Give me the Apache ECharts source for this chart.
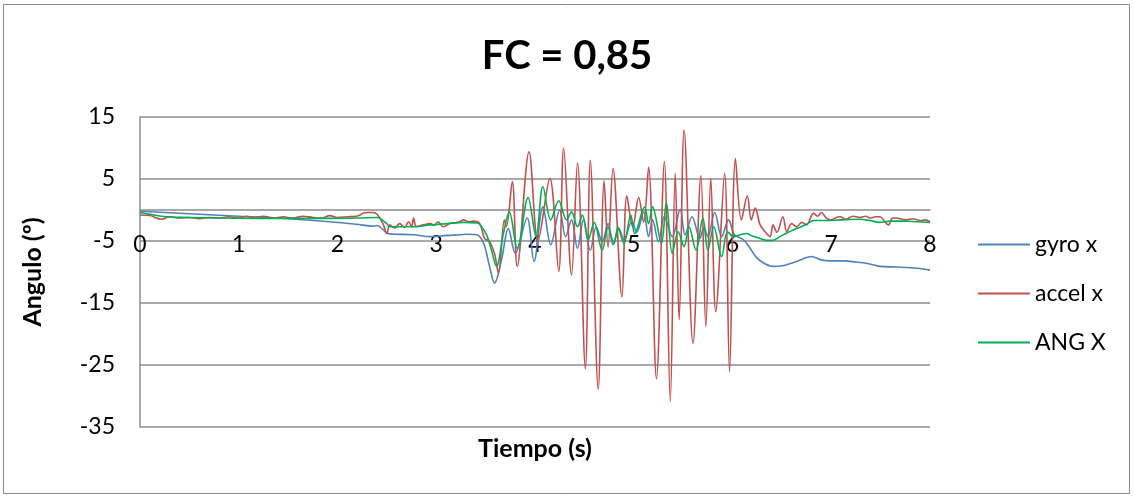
<!DOCTYPE html>
<html>
<head>
<meta charset="utf-8">
<script src="https://cdn.jsdelivr.net/npm/echarts@6/dist/echarts.min.js"></script>
<style>
  html, body { margin: 0; padding: 0; background: #fff; }
  #chart { width: 1134px; height: 497px; }
</style>
</head>
<body>
<div id="chart"></div>
<script>
// Time ticks (s) and angle ticks (deg)
const timeTicks = [0, 1, 2, 3, 4, 5, 6, 7, 8];
const angleTicks = [-35, -25, -15, -5, 5, 15];
const seriesNames = ['gyro x', 'accel x', 'ANG X'];

// [time s, angle deg]
const gyroX = [
  [0,-0.2],[0.5,-0.6],[1.0,-1.0],[1.5,-1.4],[1.92,-1.9],[2.19,-2.3],[2.36,-2.6],[2.40,-2.5],
  [2.45,-3.0],[2.51,-3.8],[2.58,-3.9],[2.77,-4.0],[2.94,-4.3],[3.11,-4.1],[3.24,-4.0],[3.31,-3.9],
  [3.41,-4.0],[3.48,-5.4],[3.54,-9.1],[3.59,-11.8],[3.66,-8.1],[3.73,-3.0],[3.80,-7.0],[3.92,-1.3],
  [3.99,-8.3],[4.08,0.5],[4.16,-5.6],[4.25,0.0],[4.31,-4.3],[4.37,-1.6],[4.43,-6.2],[4.49,-1.6],
  [4.56,-6.5],[4.62,-2.7],[4.68,-5.1],[4.74,-2.2],[4.79,-5.6],[4.85,-3.0],[4.90,-4.8],[4.98,-1.9],
  [5.03,-3.6],[5.10,-0.3],[5.15,-4.3],[5.19,-1.6],[5.25,-5.1],[5.31,-1.0],[5.39,-4.3],[5.47,0.1],
  [5.52,-4.0],[5.59,-1.1],[5.67,-4.6],[5.71,-2.8],[5.75,-4.3],[5.82,-0.4],[5.89,-4.3],[5.96,-1.6],
  [6.02,-4.0],[6.11,-4.8],[6.18,-6.2],[6.24,-7.6],[6.31,-8.5],[6.41,-9.1],[6.50,-9.0],[6.65,-8.3],
  [6.80,-7.5],[6.89,-8.0],[6.99,-8.2],[7.12,-8.2],[7.25,-8.4],[7.39,-8.7],[7.49,-9.1],[7.66,-9.2],
  [7.87,-9.4],[8.0,-9.7]
];

const accelX = [
  [0,-0.8],[0.1,-0.9],[0.22,-1.5],[0.3,-1.1],[0.4,-1.3],[0.5,-1.2],[0.6,-1.4],[0.7,-1.2],[0.8,-1.3],
  [0.9,-1.1],[1.0,-1.3],[1.08,-1.0],[1.15,-1.2],[1.25,-1.0],[1.35,-1.3],[1.45,-1.1],[1.55,-1.3],
  [1.65,-1.0],[1.75,-1.2],[1.85,-1.3],[1.92,-0.9],[2.0,-1.2],[2.1,-1.1],[2.19,-1.0],[2.23,-0.8],
  [2.26,-0.5],[2.31,-0.4],[2.36,-0.4],[2.40,-0.7],[2.46,-2.2],[2.50,-3.8],[2.53,-2.4],[2.58,-2.9],
  [2.63,-2.2],[2.68,-2.8],[2.72,-1.9],[2.75,-2.7],[2.77,-1.3],[2.80,-2.7],[2.87,-2.4],[2.94,-2.2],
  [2.98,-2.5],[3.02,-1.9],[3.07,-2.7],[3.15,-2.1],[3.22,-2.0],[3.28,-1.6],[3.33,-1.9],[3.38,-1.8],
  [3.44,-2.2],[3.49,-4.6],[3.54,-5.1],[3.59,-7.0],[3.63,-10.2],[3.69,-1.6],[3.71,-2.7],[3.77,4.6],
  [3.82,-9.1],[3.94,9.4],[4.03,-5.0],[4.15,5.1],[4.24,-9.9],[4.29,10.0],[4.37,-10.5],[4.43,7.6],
  [4.51,-25.6],[4.56,8.0],[4.64,-28.9],[4.70,4.7],[4.74,-6.0],[4.79,6.7],[4.88,-14.0],[4.93,2.3],
  [4.99,-2.7],[5.05,2.0],[5.10,-2.0],[5.15,6.9],[5.23,-27.2],[5.31,7.8],[5.37,-30.9],[5.42,5.9],
  [5.46,-17.7],[5.51,12.9],[5.60,-21.5],[5.68,5.5],[5.73,-18.8],[5.78,5.1],[5.83,-16.4],[5.92,5.9],
  [5.97,-26.1],[6.03,8.3],[6.09,-1.6],[6.15,2.3],[6.19,-1.6],[6.23,0.3],[6.28,-2.4],[6.33,-3.5],
  [6.38,-4.3],[6.41,-2.4],[6.45,-3.6],[6.51,-1.1],[6.55,-3.5],[6.60,-2.2],[6.65,-2.7],[6.70,-2.0],
  [6.75,-2.4],[6.82,-0.5],[6.86,-1.0],[6.90,-0.4],[6.95,-1.3],[7.0,-1.6],[7.05,-1.2],[7.09,-1.1],
  [7.15,-1.5],[7.22,-1.0],[7.29,-1.2],[7.35,-1.0],[7.39,-1.3],[7.45,-1.1],[7.49,-1.1],[7.58,-2.4],
  [7.62,-1.3],[7.66,-1.3],[7.72,-1.5],[7.76,-1.6],[7.82,-1.4],[7.90,-1.7],[7.95,-1.6],[8.0,-1.9]
];

const angX = [
  [0,-0.4],[0.1,-0.7],[0.27,-1.1],[0.5,-1.2],[0.8,-1.3],[1.18,-1.35],[1.6,-1.35],[1.92,-1.35],
  [2.2,-1.3],[2.40,-1.2],[2.43,-1.35],[2.50,-2.2],[2.53,-2.7],[2.77,-2.7],[2.94,-2.4],[3.11,-2.2],
  [3.27,-2.0],[3.41,-2.1],[3.44,-2.3],[3.51,-4.0],[3.56,-6.5],[3.61,-9.1],[3.68,-3.8],[3.74,-0.3],
  [3.82,-6.2],[3.93,2.0],[4.01,-4.3],[4.08,3.8],[4.16,-1.6],[4.24,1.5],[4.32,-1.6],[4.37,-0.3],
  [4.43,-2.7],[4.48,-0.8],[4.54,-4.8],[4.60,-2.0],[4.68,-6.5],[4.74,-2.8],[4.80,-5.4],[4.84,-2.8],
  [4.90,-5.4],[4.97,-0.8],[5.01,-3.8],[5.11,0.5],[5.15,-2.2],[5.19,0.5],[5.28,-5.4],[5.33,1.2],
  [5.39,-7.0],[5.45,-3.5],[5.51,-5.9],[5.56,-2.7],[5.63,-6.5],[5.70,-1.3],[5.75,-6.5],[5.81,-2.7],
  [5.89,-7.5],[5.95,-3.5],[6.01,-4.3],[6.08,-4.0],[6.14,-3.8],[6.20,-4.2],[6.28,-4.6],[6.35,-4.9],
  [6.41,-4.9],[6.48,-4.3],[6.55,-3.7],[6.65,-3.0],[6.75,-2.3],[6.82,-1.7],[6.95,-1.7],[7.09,-1.6],
  [7.29,-1.5],[7.39,-1.7],[7.49,-2.0],[7.60,-1.8],[7.75,-1.8],[7.87,-1.9],[8.0,-2.0]
];

const FONT = 'Lato, "Open Sans", sans-serif';
const GRID_COLOR = '#8c8c8c';
const GRID = { left: 140, right: 204, top: 117, bottom: 70 };
const CHART_H = 497;

// The time axis crosses the angle axis at 0: shift it up from the grid bottom.
const yMin = angleTicks[0];
const yMax = angleTicks[angleTicks.length - 1];
const plotH = CHART_H - GRID.top - GRID.bottom;
const zeroOffset = -plotH * (0 - yMin) / (yMax - yMin);

const chart = echarts.init(document.getElementById('chart'), null, { renderer: 'canvas' });

function lineSeries(name, data, color) {
  return {
    name: name,
    type: 'line',
    data: data,
    symbol: 'none',
    smooth: 0.35,
    lineStyle: { color: color, width: 1.6 },
    itemStyle: { color: color },
    animation: false
  };
}

chart.setOption({
  backgroundColor: '#ffffff',
  animation: false,
  title: {
    text: 'FC = 0,85',
    left: 'center',
    top: 31,
    textStyle: { fontFamily: FONT, fontSize: 40, fontWeight: 'bold', color: '#000' }
  },
  graphic: [{
    type: 'rect',
    shape: { x: 3.5, y: 4.5, width: 1126, height: 489 },
    style: { fill: 'none', stroke: '#8a8a8a', lineWidth: 1 },
    silent: true
  }],
  legend: {
    orient: 'vertical',
    left: 978,
    top: 233,
    padding: 0,
    icon: 'rect',
    itemWidth: 52,
    itemHeight: 2,
    itemGap: 26,
    data: seriesNames,
    textStyle: { fontFamily: FONT, fontSize: 23, color: '#000' }
  },
  grid: Object.assign({ containLabel: false, outerBoundsMode: 'none' }, GRID),
  xAxis: {
    type: 'value',
    position: 'bottom',
    offset: zeroOffset,
    min: timeTicks[0],
    max: timeTicks[timeTicks.length - 1],
    interval: 1,
    name: 'Tiempo (s)',
    nameLocation: 'middle',
    nameGap: 226,
    nameTextStyle: { fontFamily: FONT, fontSize: 25, fontWeight: 'bold', color: '#000' },
    axisLine: { onZero: false, lineStyle: { color: GRID_COLOR, width: 1.5 } },
    axisTick: { show: false },
    axisLabel: { fontFamily: FONT, fontSize: 23, color: '#000', margin: 23,
      formatter: v => timeTicks.includes(v) ? String(v) : '' },
    splitLine: { show: false }
  },
  yAxis: {
    type: 'value',
    min: yMin,
    max: yMax,
    interval: 10,
    name: 'Angulo (º)',
    nameLocation: 'middle',
    nameGap: 95,
    nameRotate: 90,
    nameTextStyle: { fontFamily: FONT, fontSize: 25, fontWeight: 'bold', color: '#000' },
    axisLine: { show: true, onZero: false, lineStyle: { color: GRID_COLOR, width: 1.5 } },
    axisTick: { show: false },
    axisLabel: { fontFamily: FONT, fontSize: 23, color: '#000', margin: 25 },
    splitLine: { show: true, lineStyle: { color: GRID_COLOR, width: 1.5 } }
  },
  series: [
    lineSeries(seriesNames[0], gyroX, '#4f81bd'),
    lineSeries(seriesNames[1], accelX, '#c0504d'),
    lineSeries(seriesNames[2], angX, '#00b050')
  ]
});
</script>
</body>
</html>
